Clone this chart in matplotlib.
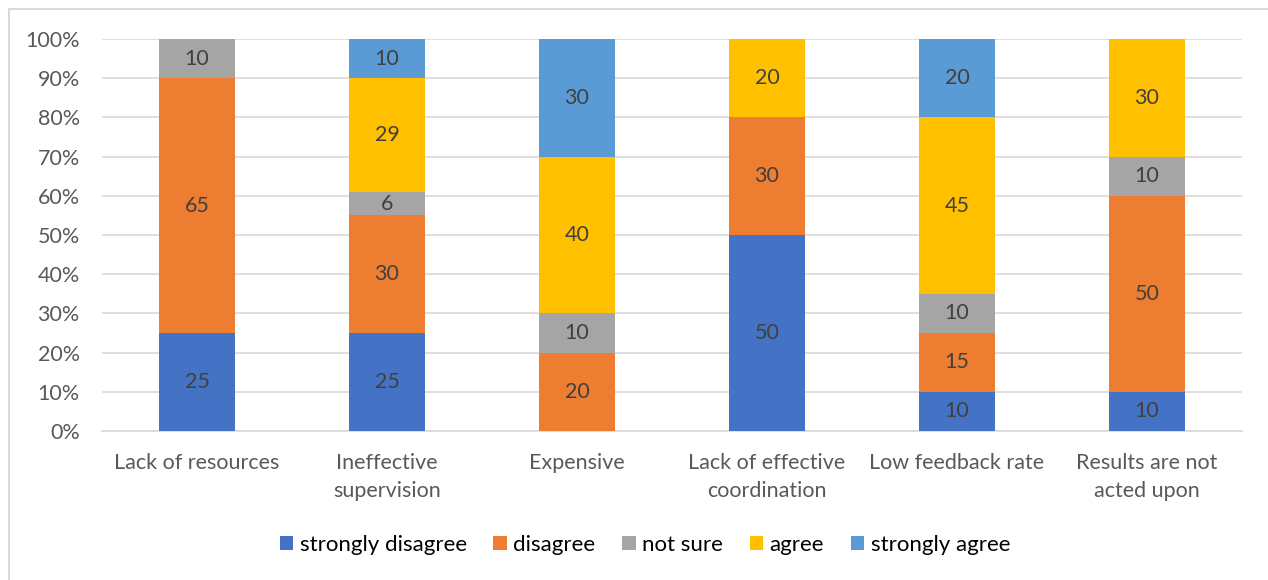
import numpy as np
import matplotlib.pyplot as plt
from matplotlib.patches import Rectangle

plt.rcParams['font.family'] = ['Lato', 'DejaVu Sans']

categories = ["Lack of resources", "Ineffective\nsupervision", "Expensive",
              "Lack of effective\ncoordination", "Low feedback rate",
              "Results are not\nacted upon"]
series_names = ["strongly disagree", "disagree", "not sure", "agree", "strongly agree"]
strongly_disagree = [25, 25, 0, 50, 10, 10]
disagree = [65, 30, 20, 30, 15, 50]
not_sure = [10, 6, 10, 0, 10, 10]
agree = [0, 29, 40, 20, 45, 30]
strongly_agree = [0, 10, 30, 0, 20, 0]
colors = ["#4472C4", "#ED7D31", "#A5A5A5", "#FFC000", "#5B9BD5"]

data = np.array([strongly_disagree, disagree, not_sure, agree, strongly_agree], dtype=float)
shares = data / data.sum(axis=0) * 100

W, H = 1268, 580
fig = plt.figure(figsize=(W / 100, H / 100), dpi=100)
ax = fig.add_axes([102 / W, 1 - 431 / H, (1242 - 102) / W, (431 - 39) / H])

# light outer frame
fig.patches.append(Rectangle((9 / W, -0.1), 1.2, 1 - 9 / H + 0.1,
                             transform=fig.transFigure, fill=False,
                             edgecolor="#D9D9D9", linewidth=1.5))

x = np.arange(len(categories))
bottom = np.zeros(len(categories))
for name, vals, share, col in zip(series_names, data, shares, colors):
    ax.bar(x, share, 0.4, bottom=bottom, color=col, label=name, zorder=3)
    for xi, v, s, b in zip(x, vals, share, bottom):
        if v > 0:
            ax.text(xi, b + s / 2, f"{v:g}", ha="center", va="center",
                    fontsize=15.5, color="#404040", zorder=4)
    bottom += share

ax.set_xlim(-0.5, len(categories) - 0.5)
ax.set_ylim(0, 100)
ax.set_yticks(np.arange(0, 101, 10))
ax.set_yticklabels([f"{t}%" for t in range(0, 101, 10)])
ax.set_xticks(x)
ax.set_xticklabels(categories, linespacing=1.5)
ax.tick_params(axis="both", length=0, labelsize=15.5, colors="#595959")
ax.tick_params(axis="y", pad=16)
ax.tick_params(axis="x", pad=16)
ax.grid(axis="y", color="#D9D9D9", linewidth=1.2, zorder=0)
for s in ["top", "right", "left"]:
    ax.spines[s].set_visible(False)
ax.spines["bottom"].set_color("#D9D9D9")
ax.spines["bottom"].set_linewidth(1.2)

fig.legend(loc="center", bbox_to_anchor=(645 / W, 1 - 545 / H), ncol=5,
           frameon=False, fontsize=16, handlelength=0.6, handleheight=0.6,
           handletextpad=0.3, columnspacing=1.2)

fig.savefig("out.png", dpi=100)
